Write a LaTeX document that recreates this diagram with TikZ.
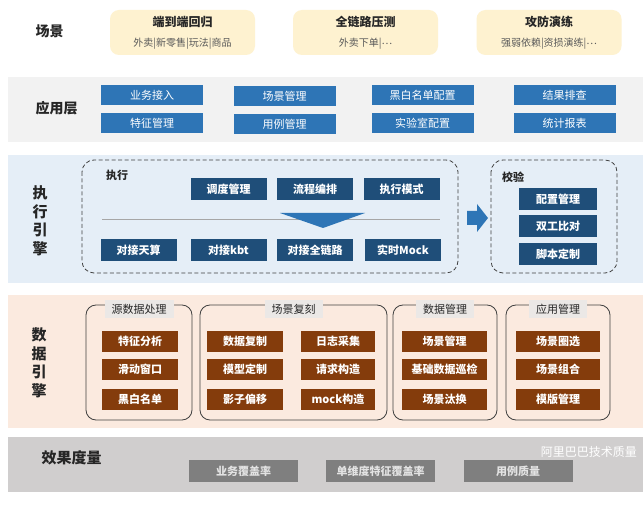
\documentclass[tikz,border=0pt]{standalone}
\usepackage{fontspec}
\setmainfont{Noto Sans CJK SC}
\usetikzlibrary{positioning,calc}
\definecolor{Ink}{HTML}{262626}
\definecolor{SubInk}{HTML}{595959}
\definecolor{SceneFill}{HTML}{FEF2D0}
\definecolor{AppBand}{HTML}{F2F2F2}
\definecolor{AppBlue}{HTML}{2E75B6}
\definecolor{ExecBand}{HTML}{E5EEF7}
\definecolor{ExecBlue}{HTML}{1F4E79}
\definecolor{DataBand}{HTML}{FBEADF}
\definecolor{DataBrown}{HTML}{843C0C}
\definecolor{TitleGray}{HTML}{EBE8E6}
\definecolor{Frame}{HTML}{404040}
\definecolor{Rule}{HTML}{A6A6A6}
\definecolor{MetricBand}{HTML}{D0CECE}
\definecolor{MetricGray}{HTML}{7F7F7F}
\definecolor{MetricInk}{HTML}{E3E3E3}
\newcommand{\pxfont}[1]{\fontsize{#1}{#1}\selectfont}
\newcommand{\middots}{\raisebox{2.8pt}{…}}
\tikzset{
 layerlabel/.style={anchor=west, text=Ink, font=\pxfont{14}\bfseries},
 vlabel/.style={text=Ink, align=center, font=\fontsize{15}{18.5}\selectfont\bfseries},
 scenebox/.style={fill=SceneFill, rounded corners=9pt, minimum width=145pt, minimum height=45pt, inner sep=0pt},
 scenetitle/.style={text=Ink, font=\pxfont{12}\bfseries},
 scenesub/.style={text=SubInk, font=\pxfont{10}},
 appbox/.style={fill=AppBlue, text=white, minimum width=102pt, minimum height=20pt, inner sep=0pt, font=\pxfont{11}},
 execbox/.style={fill=ExecBlue, text=white, minimum width=76pt, minimum height=22pt, inner sep=0pt, font=\pxfont{11}\bfseries},
 databox/.style={fill=DataBrown, text=white, minimum height=21pt, inner sep=0pt, font=\pxfont{11}\bfseries},
 groupframe/.style={draw=Frame, line width=0.8pt, rounded corners=10pt},
 grouptitle/.style={fill=TitleGray, text=Ink, minimum height=18pt, inner xsep=7pt, inner ysep=0pt, font=\pxfont{11}},
 dashframe/.style={draw=Frame, line width=0.8pt, dash pattern=on 4pt off 2.5pt, rounded corners=12pt},
 cornerlabel/.style={text=Ink, font=\pxfont{11}\bfseries},
 metricbox/.style={fill=MetricGray, text=MetricInk, minimum width=109pt, minimum height=22pt, inner sep=0pt, font=\pxfont{11}\bfseries}
}

\begin{document}
\begin{tikzpicture}[x=1pt,y=-1pt]
\useasboundingbox (0,0) rectangle (643,505);
\fill[white] (0,0) rectangle (643,505);

\node[layerlabel] (scenelab) at (32,31) {场景};
\foreach \name/\sub/\x [count=\i] in {
端到端回归/外卖|新零售|玩法|商品/182.5,
全链路压测/外卖下单|\middots/365.5,
攻防演练/强弱依赖|资损演练|\middots/549}{
  \node[scenebox] (scene\i) at (\x,32.5) {};
  \node[scenetitle] (scenet\i) at (\x,22) {\name};
  \node[scenesub] (scenes\i) at (\x,44) {\sub};
}

\fill[AppBand] (8,77) rectangle (643,142);
\node[layerlabel] (applab) at (32,108) {应用层};
\foreach \name/\x/\y [count=\i] in {
业务接入/152/95, 特征管理/152/123,
场景管理/284.5/96, 用例管理/284.5/124,
黑白名单配置/422.5/95, 实验室配置/422.5/123,
结果排查/564.5/95, 统计报表/564.5/123}{
  \node[appbox] (app\i) at (\x,\y) {\name};
}

\fill[ExecBand] (8,155) rectangle (643,283);
\node[vlabel] (execlab) at (40,221) {执\\行\\引\\擎};
\draw[dashframe] (82,160) rectangle (458,273);
\node[cornerlabel] (runlab) at (117,175) {执行};
\draw[Rule, line width=0.6pt] (102,219) -- (440,219);
\fill[AppBlue] (280,213) -- (365,213) -- (323,228) -- cycle;
\foreach \name/\x/\y [count=\i] in {
调度管理/228.5/189, 流程编排/315/189, 执行模式/401.5/189,
对接天算/138.5/250.5, 对接kbt/228.5/250.5, 对接全链路/315/250.5, 实时Mock/403/250.5}{
  \node[execbox] (exec\i) at (\x,\y) {\name};
}
\fill[AppBlue] (467,211) -- (477,211) -- (477,204) -- (488,218) -- (477,232) -- (477,225) -- (467,225) -- cycle;
\draw[dashframe] (491,160) rectangle (617,273);
\node[cornerlabel] (checklab) at (513,177) {校验};
\foreach \name/\y [count=\i] in {配置管理/199, 双工比对/226.5, 脚本定制/254}{
  \node[execbox, minimum width=78pt] (check\i) at (558,\y) {\name};
}

\fill[DataBand] (8,295) rectangle (643,428);
\node[vlabel] (datalab) at (39,363) {数\\据\\引\\擎};
\foreach \name/\l/\r [count=\i] in {
源数据处理/86/192, 场景复刻/200/387, 数据管理/393/497, 应用管理/506/610}{
  \draw[groupframe] (\l,305) rectangle (\r,420);
  \node[grouptitle] (group\i) at ({(\l+\r)/2},309) {\name};
}
\foreach \name/\x/\y/\w [count=\i] in {
特征分析/140/341/76, 滑动窗口/140/369.5/76, 黑白名单/140/399/76,
数据复制/245/341/76, 模型定制/245/369.5/76, 影子偏移/245/399/76,
日志采集/338/341/74, 请求构造/338/369.5/74, mock构造/338/399/74,
场景管理/444.5/341/85, 基础数据巡检/444.5/369.5/85, 场景汰换/444.5/399/85,
场景圈选/558/341/84, 场景组合/558/369.5/84, 模版管理/558/399/84}{
  \node[databox, minimum width=\w pt] (data\i) at (\x,\y) {\name};
}

\fill[MetricBand] (8,437) rectangle (643,492);
\node[layerlabel, font=\pxfont{15}\bfseries] (metriclab) at (38,458) {效果度量};
\foreach \name/\x [count=\i] in {业务覆盖率/243.5, 单维度特征覆盖率/380.5, 用例质量/518}{
  \node[metricbox] (metric\i) at (\x,471) {\name};
}
\node[text=white, font=\pxfont{12}, anchor=south east, inner sep=1pt] (mark) at (638,459) {阿里巴巴技术质量};
\end{tikzpicture}
\end{document}
